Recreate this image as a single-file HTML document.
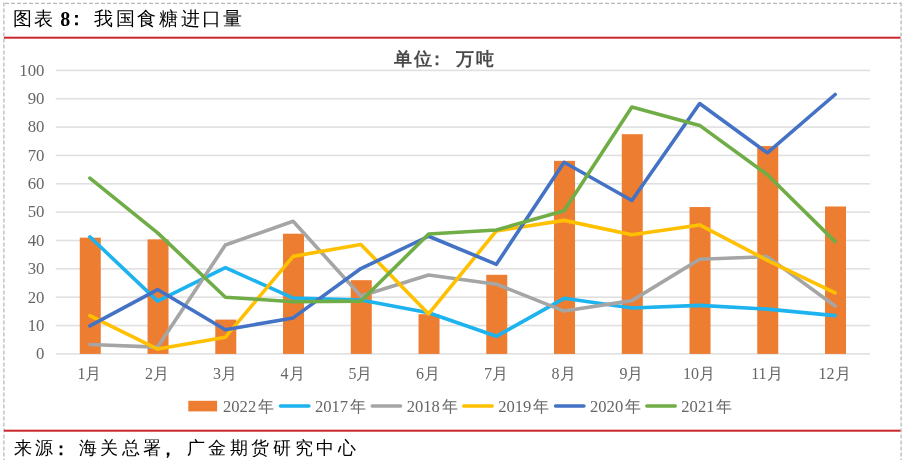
<!DOCTYPE html>
<html><head><meta charset="utf-8"><style>
html,body{margin:0;padding:0;background:#fff;width:906px;height:463px;overflow:hidden}
svg{display:block;filter:blur(0.3px)}
text{font-family:"Liberation Serif",serif}
.ax{font-size:16.8px;fill:#666}
.xl{font-size:16px;fill:#666}
.lg{font-size:16.6px;fill:#666}
.lgc{font-size:15.5px;fill:#666}
.unit{font-size:18px;font-weight:bold;fill:#4a4a4a}
.title{font-size:19px;fill:#000}
.t8{font-size:20px;font-weight:bold;fill:#000}
.src{font-size:18px;fill:#000}
</style></head><body>
<svg width="906" height="463" viewBox="0 0 906 463">
<path d="M5 3.3H901" fill="none" stroke="#b9b9b9" stroke-width="1.3" stroke-dasharray="4 2"/>
<path d="M3.9 2.5V460" fill="none" stroke="#b9b9b9" stroke-width="1.3" stroke-dasharray="4 2"/>
<path d="M901.1 2.5V460" fill="none" stroke="#b9b9b9" stroke-width="1.3" stroke-dasharray="4 2"/>
<rect x="4" y="36.7" width="896.5" height="2" fill="#c9272c"/>
<rect x="4" y="429.7" width="896.5" height="2" fill="#c9272c"/>
<rect x="55.7" y="353.10" width="814.2" height="1.6" fill="#e0e0e0"/>
<text x="44.5" y="359.20" text-anchor="end" class="ax">0</text>
<rect x="55.7" y="324.75" width="814.2" height="1.6" fill="#e0e0e0"/>
<text x="44.5" y="330.85" text-anchor="end" class="ax">10</text>
<rect x="55.7" y="296.40" width="814.2" height="1.6" fill="#e0e0e0"/>
<text x="44.5" y="302.50" text-anchor="end" class="ax">20</text>
<rect x="55.7" y="268.05" width="814.2" height="1.6" fill="#e0e0e0"/>
<text x="44.5" y="274.15" text-anchor="end" class="ax">30</text>
<rect x="55.7" y="239.70" width="814.2" height="1.6" fill="#e0e0e0"/>
<text x="44.5" y="245.80" text-anchor="end" class="ax">40</text>
<rect x="55.7" y="211.35" width="814.2" height="1.6" fill="#e0e0e0"/>
<text x="44.5" y="217.45" text-anchor="end" class="ax">50</text>
<rect x="55.7" y="183.00" width="814.2" height="1.6" fill="#e0e0e0"/>
<text x="44.5" y="189.10" text-anchor="end" class="ax">60</text>
<rect x="55.7" y="154.65" width="814.2" height="1.6" fill="#e0e0e0"/>
<text x="44.5" y="160.75" text-anchor="end" class="ax">70</text>
<rect x="55.7" y="126.30" width="814.2" height="1.6" fill="#e0e0e0"/>
<text x="44.5" y="132.40" text-anchor="end" class="ax">80</text>
<rect x="55.7" y="97.95" width="814.2" height="1.6" fill="#e0e0e0"/>
<text x="44.5" y="104.05" text-anchor="end" class="ax">90</text>
<rect x="55.7" y="69.60" width="814.2" height="1.6" fill="#e0e0e0"/>
<text x="44.5" y="75.70" text-anchor="end" class="ax">100</text>
<rect x="79.78" y="237.66" width="21.0" height="116.24" fill="#ed7d31"/>
<rect x="147.53" y="239.37" width="21.0" height="114.53" fill="#ed7d31"/>
<rect x="215.28" y="319.60" width="21.0" height="34.30" fill="#ed7d31"/>
<rect x="283.02" y="233.70" width="21.0" height="120.20" fill="#ed7d31"/>
<rect x="350.77" y="280.19" width="21.0" height="73.71" fill="#ed7d31"/>
<rect x="418.52" y="314.21" width="21.0" height="39.69" fill="#ed7d31"/>
<rect x="486.27" y="274.80" width="21.0" height="79.10" fill="#ed7d31"/>
<rect x="554.02" y="160.84" width="21.0" height="193.06" fill="#ed7d31"/>
<rect x="621.77" y="134.19" width="21.0" height="219.71" fill="#ed7d31"/>
<rect x="689.52" y="207.05" width="21.0" height="146.85" fill="#ed7d31"/>
<rect x="757.27" y="146.09" width="21.0" height="207.81" fill="#ed7d31"/>
<rect x="825.02" y="206.48" width="21.0" height="147.42" fill="#ed7d31"/>
<polyline points="89.88,236.81 157.62,301.17 225.38,267.72 293.12,298.05 360.88,300.03 428.62,312.79 496.38,336.32 564.12,298.33 631.88,307.97 699.62,305.42 767.38,309.11 835.12,315.63" fill="none" stroke="#1db3ef" stroke-width="3.6" stroke-linejoin="round" stroke-linecap="round"/>
<polyline points="89.88,344.54 157.62,347.10 225.38,245.04 293.12,221.22 360.88,296.07 428.62,275.09 496.38,284.16 564.12,311.09 631.88,300.60 699.62,259.21 767.38,256.66 835.12,305.99" fill="none" stroke="#a5a5a5" stroke-width="3.6" stroke-linejoin="round" stroke-linecap="round"/>
<polyline points="89.88,315.63 157.62,349.08 225.38,337.17 293.12,256.38 360.88,244.47 428.62,313.93 496.38,230.86 564.12,220.37 631.88,234.83 699.62,224.91 767.38,260.34 835.12,292.95" fill="none" stroke="#ffc000" stroke-width="3.6" stroke-linejoin="round" stroke-linecap="round"/>
<polyline points="89.88,325.83 157.62,289.55 225.38,329.80 293.12,317.90 360.88,268.57 428.62,236.25 496.38,264.31 564.12,162.25 631.88,200.53 699.62,103.57 767.38,152.90 835.12,94.50" fill="none" stroke="#4472c4" stroke-width="3.6" stroke-linejoin="round" stroke-linecap="round"/>
<polyline points="89.88,178.13 157.62,232.85 225.38,297.20 293.12,301.74 360.88,301.17 428.62,233.98 496.38,230.01 564.12,210.73 631.88,106.97 699.62,125.40 767.38,174.73 835.12,241.63" fill="none" stroke="#70ad47" stroke-width="3.6" stroke-linejoin="round" stroke-linecap="round"/>
<text x="89.38" y="379.3" text-anchor="middle" class="xl">1月</text>
<text x="157.12" y="379.3" text-anchor="middle" class="xl">2月</text>
<text x="224.88" y="379.3" text-anchor="middle" class="xl">3月</text>
<text x="292.62" y="379.3" text-anchor="middle" class="xl">4月</text>
<text x="360.38" y="379.3" text-anchor="middle" class="xl">5月</text>
<text x="428.12" y="379.3" text-anchor="middle" class="xl">6月</text>
<text x="495.88" y="379.3" text-anchor="middle" class="xl">7月</text>
<text x="563.62" y="379.3" text-anchor="middle" class="xl">8月</text>
<text x="631.38" y="379.3" text-anchor="middle" class="xl">9月</text>
<text x="699.12" y="379.3" text-anchor="middle" class="xl">10月</text>
<text x="766.88" y="379.3" text-anchor="middle" class="xl">11月</text>
<text x="834.62" y="379.3" text-anchor="middle" class="xl">12月</text>
<rect x="188.3" y="400.8" width="28.8" height="10.6" fill="#ed7d31"/>
<text x="223.0" y="412" class="lg">2022</text>
<text x="265.8" y="412" text-anchor="middle" class="lgc">年</text>
<line x1="280.4" y1="406" x2="308.9" y2="406" stroke="#1db3ef" stroke-width="3.4" stroke-linecap="round"/>
<text x="314.9" y="412" class="lg">2017</text>
<text x="357.7" y="412" text-anchor="middle" class="lgc">年</text>
<line x1="372.2" y1="406" x2="400.7" y2="406" stroke="#a5a5a5" stroke-width="3.4" stroke-linecap="round"/>
<text x="406.7" y="412" class="lg">2018</text>
<text x="449.5" y="412" text-anchor="middle" class="lgc">年</text>
<line x1="463.7" y1="406" x2="492.2" y2="406" stroke="#ffc000" stroke-width="3.4" stroke-linecap="round"/>
<text x="498.2" y="412" class="lg">2019</text>
<text x="541.0" y="412" text-anchor="middle" class="lgc">年</text>
<line x1="555.5" y1="406" x2="584.0" y2="406" stroke="#4472c4" stroke-width="3.4" stroke-linecap="round"/>
<text x="590.0" y="412" class="lg">2020</text>
<text x="632.8" y="412" text-anchor="middle" class="lgc">年</text>
<line x1="646.8" y1="406" x2="675.3" y2="406" stroke="#70ad47" stroke-width="3.4" stroke-linecap="round"/>
<text x="681.3" y="412" class="lg">2021</text>
<text x="724.1" y="412" text-anchor="middle" class="lgc">年</text>
<text x="402.5" y="65.2" text-anchor="middle" class="unit">单</text>
<text x="423.1" y="65.2" text-anchor="middle" class="unit">位</text>
<text x="437.3" y="65.2" text-anchor="middle" class="unit" font-weight="bold">：</text>
<text x="464.5" y="65.2" text-anchor="middle" class="unit">万</text>
<text x="485.0" y="65.2" text-anchor="middle" class="unit">吨</text>
<text x="22.9" y="25.3" text-anchor="middle" class="title">图</text>
<text x="43.4" y="25.3" text-anchor="middle" class="title">表</text>
<text x="65.3" y="26.2" text-anchor="middle" class="t8">8</text>
<text x="76.9" y="25.3" text-anchor="middle" class="title" font-weight="bold">：</text>
<text x="103.5" y="25.3" text-anchor="middle" class="title">我</text>
<text x="125.0" y="25.3" text-anchor="middle" class="title">国</text>
<text x="146.8" y="25.3" text-anchor="middle" class="title">食</text>
<text x="168.0" y="25.3" text-anchor="middle" class="title">糖</text>
<text x="190.0" y="25.3" text-anchor="middle" class="title">进</text>
<text x="211.3" y="25.3" text-anchor="middle" class="title">口</text>
<text x="232.5" y="25.3" text-anchor="middle" class="title">量</text>
<text x="22.8" y="453.8" text-anchor="middle" class="src">来</text>
<text x="44.4" y="453.8" text-anchor="middle" class="src">源</text>
<text x="61.0" y="455.1" text-anchor="middle" class="src" font-weight="bold">：</text>
<text x="87.6" y="453.8" text-anchor="middle" class="src">海</text>
<text x="109.2" y="453.8" text-anchor="middle" class="src">关</text>
<text x="130.8" y="453.8" text-anchor="middle" class="src">总</text>
<text x="152.4" y="453.8" text-anchor="middle" class="src">署</text>
<text x="168.0" y="455.1" text-anchor="middle" class="src" font-weight="bold">，</text>
<text x="195.6" y="453.8" text-anchor="middle" class="src">广</text>
<text x="217.2" y="453.8" text-anchor="middle" class="src">金</text>
<text x="238.8" y="453.8" text-anchor="middle" class="src">期</text>
<text x="260.4" y="453.8" text-anchor="middle" class="src">货</text>
<text x="282.0" y="453.8" text-anchor="middle" class="src">研</text>
<text x="303.6" y="453.8" text-anchor="middle" class="src">究</text>
<text x="325.2" y="453.8" text-anchor="middle" class="src">中</text>
<text x="346.8" y="453.8" text-anchor="middle" class="src">心</text>
</svg>
</body></html>
